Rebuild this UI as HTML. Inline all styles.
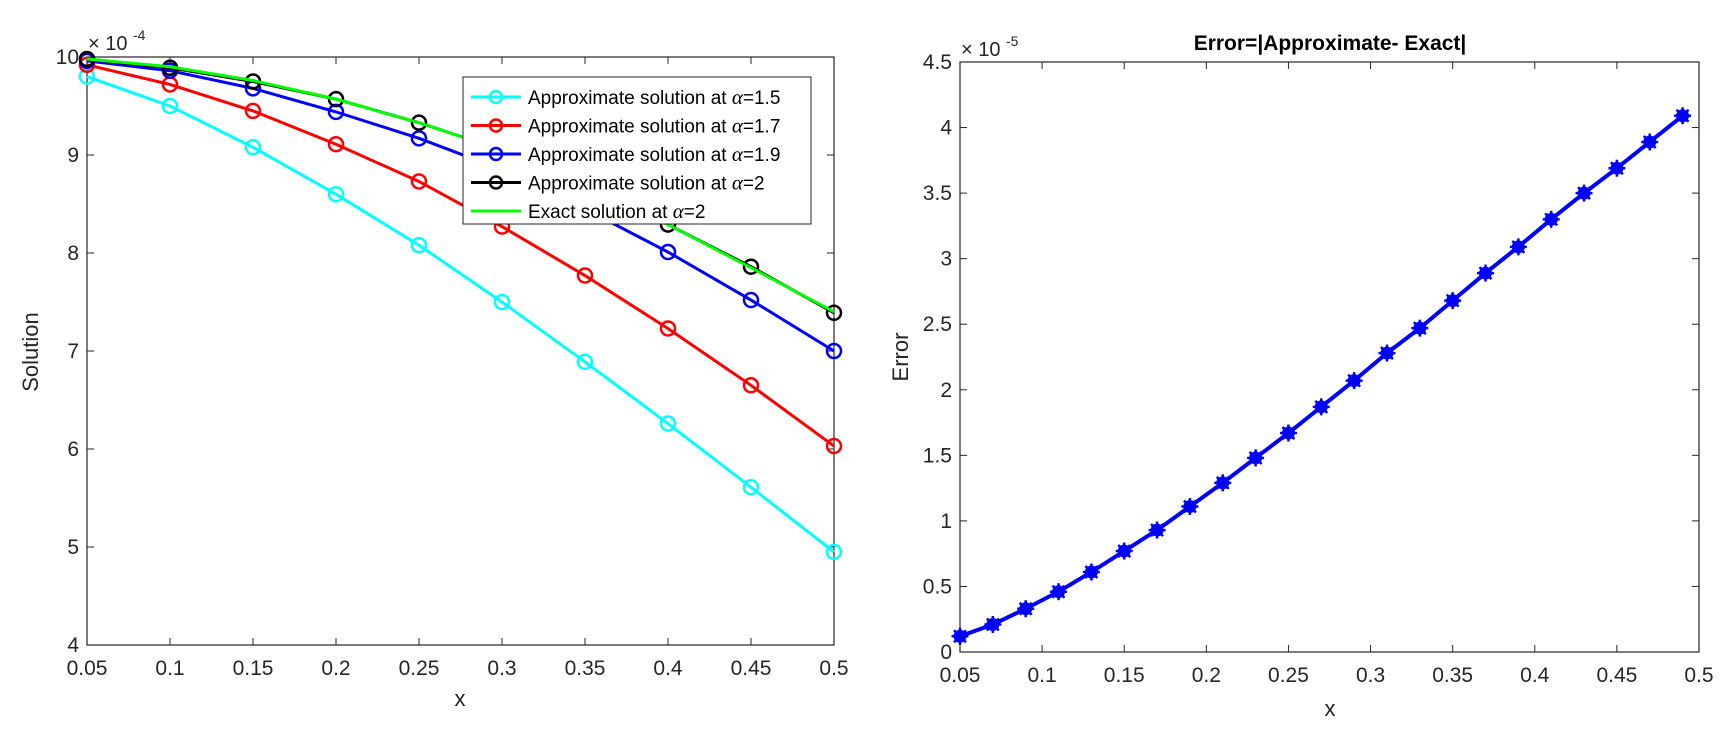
<!DOCTYPE html>
<html><head><meta charset="utf-8">
<style>
html,body{margin:0;padding:0;background:#fff;}
svg{display:block;font-family:"Liberation Sans",Arial,sans-serif;}
</style></head>
<body>
<svg id="fig" width="1736" height="740" xmlns="http://www.w3.org/2000/svg"></svg>
<script>
// ---- Left chart data ----
const leftX = [0.05,0.1,0.15,0.2,0.25,0.3,0.35,0.4,0.45,0.5];
const cyanY = [9.80,9.50,9.08,8.60,8.08,7.50,6.89,6.26,5.61,4.95];
const redY = [9.92,9.72,9.45,9.11,8.73,8.27,7.77,7.23,6.65,6.03];
const blueY = [9.96,9.86,9.68,9.44,9.17,8.85,8.45,8.01,7.52,7.00];
const blackY = [9.98,9.89,9.75,9.57,9.33,9.05,8.70,8.29,7.86,7.39];
const greenY = [9.98,9.90,9.76,9.57,9.33,9.05,8.70,8.29,7.85,7.40];
const leftXTicks = ["0.05","0.1","0.15","0.2","0.25","0.3","0.35","0.4","0.45","0.5"];
const leftYTicks = ["4","5","6","7","8","9","10"];
const legendPrefix = ["Approximate solution at ","Approximate solution at ","Approximate solution at ","Approximate solution at ","Exact solution at "];
const legendSuffix = ["=1.5","=1.7","=1.9","=2","=2"];
// ---- Right chart data ----
const errX = [0.05,0.07,0.09,0.11,0.13,0.15,0.17,0.19,0.21,0.23,0.25,0.27,0.29,0.31,0.33,0.35,0.37,0.39,0.41,0.43,0.45,0.47,0.49];
const errY = [0.12,0.21,0.33,0.46,0.61,0.77,0.93,1.11,1.29,1.48,1.67,1.87,2.07,2.28,2.47,2.68,2.89,3.09,3.30,3.50,3.69,3.89,4.09];
const rightXTicks = ["0.05","0.1","0.15","0.2","0.25","0.3","0.35","0.4","0.45","0.5"];
const rightYTicks = ["0","0.5","1","1.5","2","2.5","3","3.5","4","4.5"];

const NS="http://www.w3.org/2000/svg";
const svg=document.getElementById('fig');
function mk(tag,attrs,parent){const e=document.createElementNS(NS,tag);for(const k in attrs)e.setAttribute(k,attrs[k]);(parent||svg).appendChild(e);return e;}
function txt(s,attrs,parent){const e=mk('text',attrs,parent);e.textContent=s;return e;}

function axes(L,R,T,B,xmin,xmax,ymin,ymax,xt,yt,name){
  const g=mk('g',{});
  
  
  const sx=v=>L+(v-xmin)/(xmax-xmin)*(R-L);
  const sy=v=>B-(v-ymin)/(ymax-ymin)*(B-T);
  mk('rect',{x:L,y:T,width:R-L,height:B-T,fill:'none',stroke:'#262626','stroke-width':1.2},g);
  xt.forEach(t=>{const v=parseFloat(t),x=sx(v);
    mk('line',{x1:x,x2:x,y1:B,y2:B-7,stroke:'#262626','stroke-width':1},g);
    mk('line',{x1:x,x2:x,y1:T,y2:T+7,stroke:'#262626','stroke-width':1},g);
    const e=txt(t,{x:x,y:B+30,'text-anchor':'middle','font-size':21,fill:'#262626'},g);
    
    
  });
  yt.forEach(t=>{const v=parseFloat(t),y=sy(v);
    mk('line',{x1:L,x2:L+7,y1:y,y2:y,stroke:'#262626','stroke-width':1},g);
    mk('line',{x1:R,x2:R-7,y1:y,y2:y,stroke:'#262626','stroke-width':1},g);
    const e=txt(t,{x:L-8,y:y+7,'text-anchor':'end','font-size':21,fill:'#262626'},g);
    
    
  });
  return {sx,sy};
}

// LEFT
const LA=axes(87,834,57,645,0.05,0.5,4,10,leftXTicks,leftYTicks,'left');
const lx=txt('x',{x:460,y:706,'text-anchor':'middle','font-size':22,fill:'#262626'});


const ly=txt('Solution',{x:0,y:0,'text-anchor':'middle','font-size':22,fill:'#262626',transform:'translate(38,352) rotate(-90)'});


const le=txt('\u00d7 10',{x:88,y:50,'font-size':20,fill:'#262626'});


txt('-4',{x:133,y:40,'font-size':14,fill:'#262626'});

function series(xs,ys,col,markers,name,sc,w){
  const g=mk('g',{});
  
  
  const pts=xs.map((x,i)=>sc.sx(x)+','+sc.sy(ys[i])).join(' ');
  mk('polyline',{points:pts,fill:'none',stroke:col,'stroke-width':w||3},g);
  if(markers) xs.forEach((x,i)=>{
    const c=mk('circle',{cx:sc.sx(x),cy:sc.sy(ys[i]),r:7,fill:'none',stroke:col,'stroke-width':2.5},g);
    
    
  });
}
series(leftX,cyanY,'#00ffff',true,'series-alpha-1-5',LA);
series(leftX,redY,'#ff0000',true,'series-alpha-1-7',LA);
series(leftX,blueY,'#0000ff',true,'series-alpha-1-9',LA);
series(leftX,blackY,'#000000',true,'series-alpha-2',LA);
series(leftX,greenY,'#00ff00',false,'series-exact',LA);

// legend
const lg=mk('g',{});


mk('rect',{x:463,y:77,width:348,height:147,fill:'#fff',stroke:'#262626','stroke-width':1},lg);
const lcols=['#00ffff','#ff0000','#0000ff','#000000','#00ff00'];
legendPrefix.forEach((s,i)=>{
  const y=97+i*28.5;
  const e=mk('g',{},lg);
  
  
  mk('line',{x1:471,x2:521,y1:y,y2:y,stroke:lcols[i],'stroke-width':3},e);
  if(i<4) mk('circle',{cx:496,cy:y,r:6,fill:'none',stroke:lcols[i],'stroke-width':2.5},e);
  const t=mk('text',{x:528,y:y+7,'font-size':19,fill:'#000'},e);
  const a=mk('tspan',{},t);a.textContent=s;
  const b=mk('tspan',{'font-family':'"Liberation Serif",serif','font-style':'italic','font-size':21},t);b.textContent='\u03b1';
  const c=mk('tspan',{},t);c.textContent=legendSuffix[i];
});

// RIGHT
const RA=axes(960,1699,62,652,0.05,0.5,0,4.5,rightXTicks,rightYTicks,'right');
const rx=txt('x',{x:1330,y:716,'text-anchor':'middle','font-size':22,fill:'#262626'});


const ry=txt('Error',{x:0,y:0,'text-anchor':'middle','font-size':22,fill:'#262626',transform:'translate(908,357) rotate(-90)'});


const re=txt('\u00d7 10',{x:961,y:56,'font-size':20,fill:'#262626'});


txt('-5',{x:1006,y:46,'font-size':14,fill:'#262626'});
const rt=txt('Error=|Approximate- Exact|',{x:1330,y:50,'text-anchor':'middle','font-size':21,'font-weight':'bold',fill:'#000'});



const eg=mk('g',{});


mk('polyline',{points:errX.map((x,i)=>RA.sx(x)+','+RA.sy(errY[i])).join(' '),fill:'none',stroke:'#0000ff','stroke-width':4},eg);
errX.forEach((x,i)=>{
  const cx=RA.sx(x),cy=RA.sy(errY[i]);
  const m=mk('g',{},eg);
  
  
  mk('circle',{cx:cx,cy:cy,r:6.5,fill:'#0000ff'},m);
  [0,45,90,135].forEach(a=>{const r=a*Math.PI/180,d=8.5;
    mk('line',{x1:cx-d*Math.cos(r),y1:cy-d*Math.sin(r),x2:cx+d*Math.cos(r),y2:cy+d*Math.sin(r),stroke:'#0000ff','stroke-width':2.5},m);});
});
</script>
</body></html>
